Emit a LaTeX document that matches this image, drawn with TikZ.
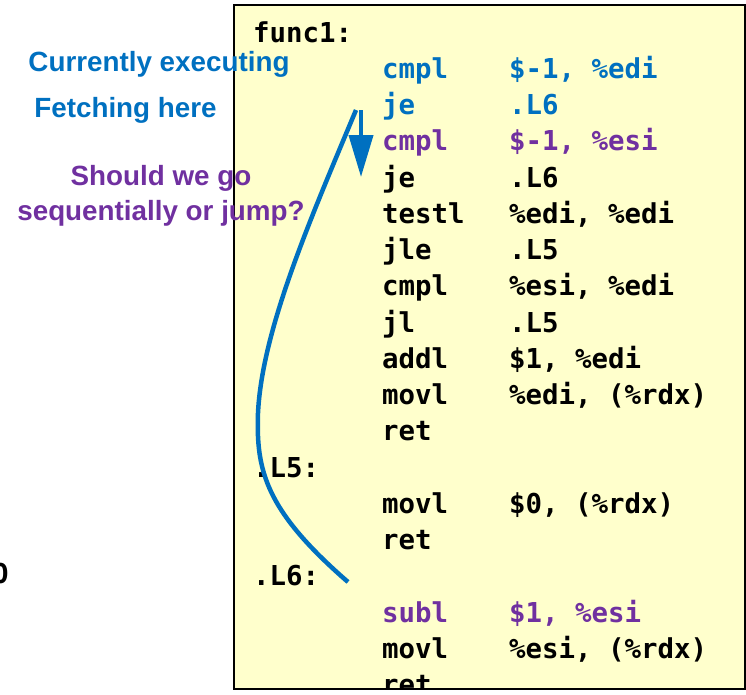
\documentclass[tikz,border=0pt]{standalone}
\usepackage{fontspec}
\setmainfont{Liberation Sans}
\newfontfamily\codefont{DejaVu Sans Mono}
\usetikzlibrary{arrows.meta}
\definecolor{cblue}{HTML}{0070C0}
\definecolor{cpurple}{HTML}{7030A0}
\definecolor{boxfill}{HTML}{FFFFCC}
\begin{document}
\begin{tikzpicture}[x=1pt,y=-1pt,
  code/.style={font=\codefont\bfseries\fontsize{27.4}{30}\selectfont, anchor=base west, inner sep=0pt, text=black},
  lab/.style={font=\bfseries\fontsize{27.8}{32}\selectfont, anchor=base, inner sep=0pt},
  flow/.style={line width=4.5pt, cblue}]
\useasboundingbox (0,0) rectangle (746,694);
% code box
\draw[line width=2pt, fill=boxfill] (234,5) rectangle (745,689);
% stray clipped glyph at left
\node[code] (stray) at (-8,583) {O};
\begin{scope}
\clip (235,6) rectangle (744,688);
\node[code] (f1) at (253,42) {func1:};
\node[code,text=cblue] (m1) at (382,78.25) {cmpl};
\node[code,text=cblue] (o1) at (509,78.25) {\$-1, \%edi};
\node[code,text=cblue] (m2) at (382,114.5) {je};
\node[code,text=cblue] (o2) at (509,114.5) {.L6};
\node[code,text=cpurple] (m3) at (382,150.75) {cmpl};
\node[code,text=cpurple] (o3) at (509,150.75) {\$-1, \%esi};
\node[code] (m4) at (382,187) {je};
\node[code] (o4) at (509,187) {.L6};
\node[code] (m5) at (382,223.25) {testl};
\node[code] (o5) at (509,223.25) {\%edi, \%edi};
\node[code] (m6) at (382,259.5) {jle};
\node[code] (o6) at (509,259.5) {.L5};
\node[code] (m7) at (382,295.75) {cmpl};
\node[code] (o7) at (509,295.75) {\%esi, \%edi};
\node[code] (m8) at (382,332) {jl};
\node[code] (o8) at (509,332) {.L5};
\node[code] (m9) at (382,368.25) {addl};
\node[code] (o9) at (509,368.25) {\$1, \%edi};
\node[code] (m10) at (382,404.5) {movl};
\node[code] (o10) at (509,404.5) {\%edi, (\%rdx)};
\node[code] (m11) at (382,440.75) {ret};
\node[code] (l5) at (253,477) {.L5:};
\node[code] (m13) at (382,513.25) {movl};
\node[code] (o13) at (509,513.25) {\$0, (\%rdx)};
\node[code] (m14) at (382,549.5) {ret};
\node[code] (l6) at (253,585.75) {.L6:};
\node[code,text=cpurple] (m16) at (382,622) {subl};
\node[code,text=cpurple] (o16) at (509,622) {\$1, \%esi};
\node[code] (m17) at (382,658.25) {movl};
\node[code] (o17) at (509,658.25) {\%esi, (\%rdx)};
\node[code] (m18) at (382,694.5) {ret};
\end{scope}
% flow arrows
\coordinate (jstart) at (348,582);
\coordinate (jmid) at (258,413);
\coordinate (jtop) at (356,110);
\coordinate (ftop) at (361,110);
\coordinate (fend) at (361,177);
\draw[flow] (jstart) .. controls (265,510) and (256,470) .. (jmid)
  .. controls (262,330) and (310,220) .. (jtop);
\draw[flow, line width=4pt, -{Triangle[length=42pt,width=24pt]}] (ftop) -- (fend);
% labels
\node[lab,text=cblue] (cur) at (159,71) {Currently executing};
\node[lab,text=cblue] (fet) at (125.5,117) {Fetching here};
\node[lab,text=cpurple] (q1) at (161,185) {Should we go};
\node[lab,text=cpurple] (q2) at (161,220) {sequentially or jump?};
\end{tikzpicture}
\end{document}
